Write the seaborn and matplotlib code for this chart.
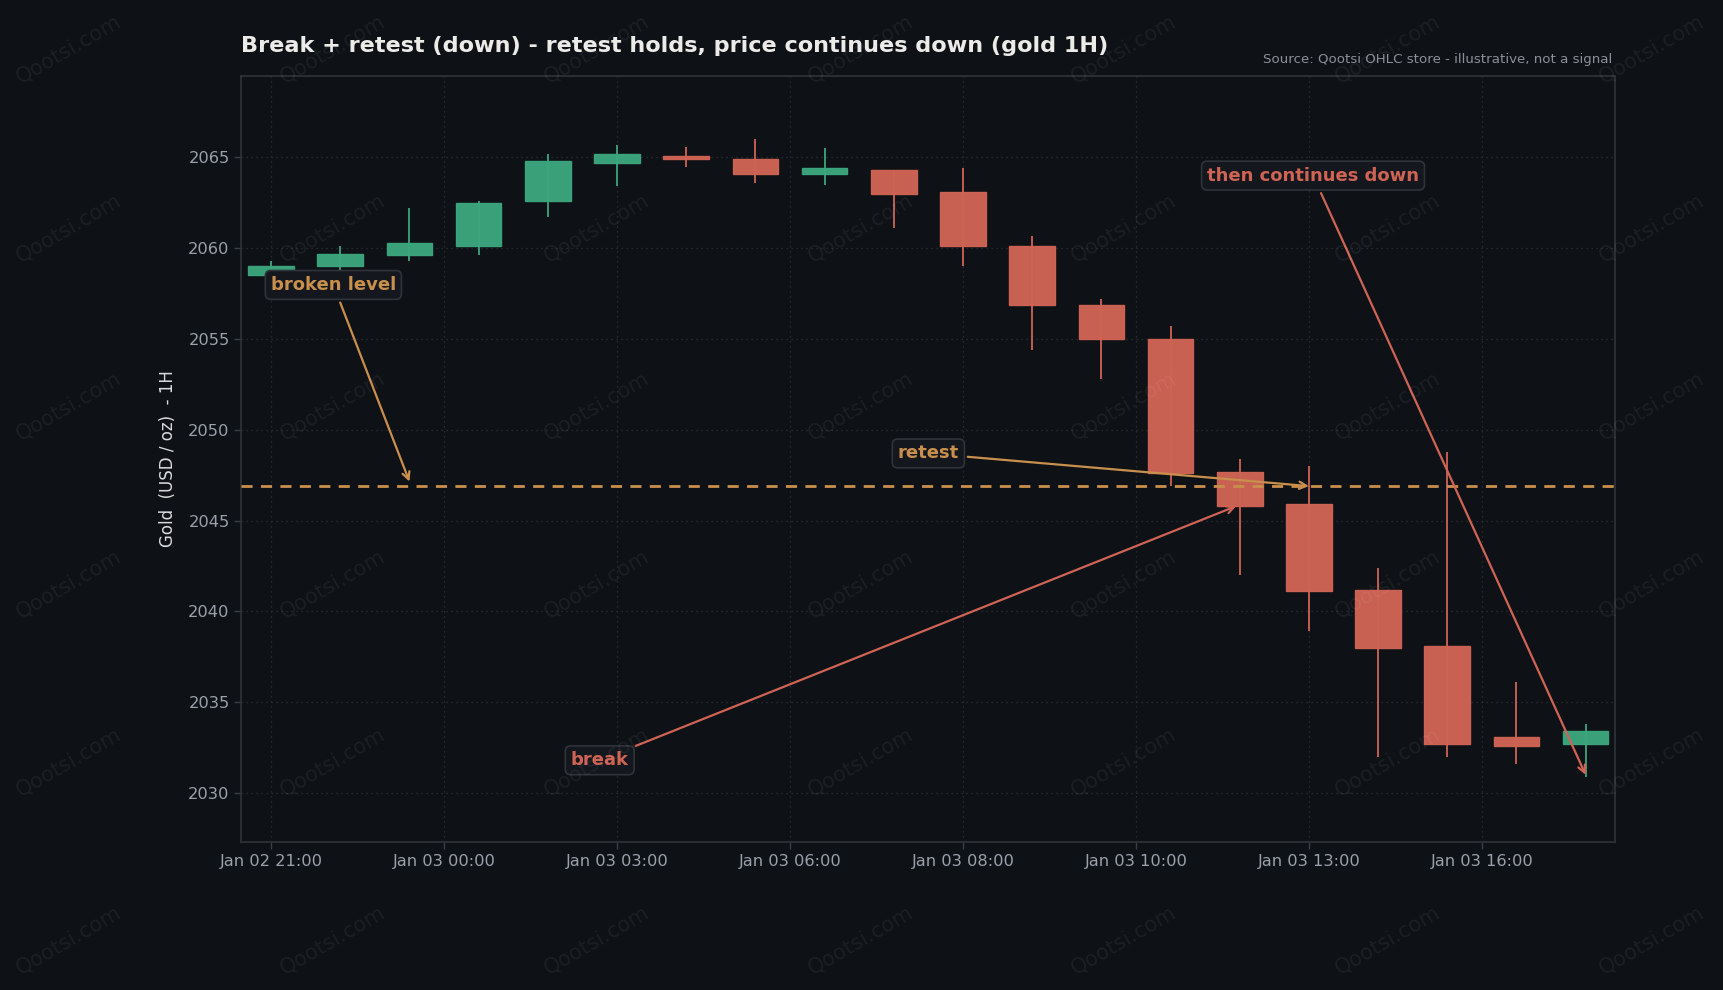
import numpy as np
import seaborn as sns
import matplotlib
matplotlib.use("Agg")
import matplotlib.pyplot as plt

# OHLC values (gold, 1H)
opens  = [2058.5, 2059.0, 2059.6, 2060.1, 2062.6, 2064.7, 2065.1, 2064.9, 2064.1, 2064.3,
          2063.1, 2060.1, 2056.9, 2055.0, 2047.7, 2045.9, 2041.2, 2038.1, 2033.1, 2032.7]
highs  = [2059.3, 2060.1, 2062.2, 2062.6, 2065.2, 2065.7, 2065.6, 2066.0, 2065.5, 2064.3,
          2064.4, 2060.7, 2057.2, 2055.7, 2048.4, 2048.0, 2042.4, 2048.8, 2036.1, 2033.8]
lows   = [2058.4, 2058.8, 2059.3, 2059.6, 2061.7, 2063.4, 2064.5, 2063.6, 2063.5, 2061.1,
          2059.0, 2054.4, 2052.8, 2046.9, 2042.0, 2038.9, 2032.0, 2032.0, 2031.6, 2030.9]
closes = [2059.0, 2059.7, 2060.3, 2062.5, 2064.8, 2065.2, 2064.9, 2064.1, 2064.4, 2063.0,
          2060.1, 2056.9, 2055.0, 2047.6, 2045.8, 2041.1, 2038.0, 2032.7, 2032.6, 2033.4]
tick_labels = ["Jan 02 21:00", "Jan 03 00:00", "Jan 03 03:00", "Jan 03 06:00",
               "Jan 03 08:00", "Jan 03 10:00", "Jan 03 13:00", "Jan 03 16:00"]
level = 2046.9

BG = "#0e1116"
GREEN = "#3ca67d"
RED = "#cf6455"
ORANGE = "#c98f4c"
MUTED = "#9aa1ab"

sns.set_theme(style="dark", rc={
    "figure.facecolor": BG, "axes.facecolor": BG, "axes.edgecolor": "#30343a",
    "grid.color": "#2c3037", "text.color": "#e6e4e0", "axes.labelcolor": "#dcdcdc",
    "xtick.color": MUTED, "ytick.color": MUTED,
})
plt.rcParams["font.family"] = ["DejaVu Sans"]

fig = plt.figure(figsize=(17.24, 9.9), dpi=100)
ax = fig.add_axes([0.140, 0.1495, 0.797, 0.774])

# watermark
for wx in np.arange(0.040, 1.0, 0.153):
    for wy in np.arange(0.95, 0.0, -0.18):
        fig.text(wx, wy, "Qootsi.com", rotation=30, ha="center", va="center",
                 fontsize=15, color="#ffffff", alpha=0.06, zorder=0)

x = np.arange(len(opens))
o, h, l, c = map(np.array, (opens, highs, lows, closes))
up = c >= o
cols = np.where(up, GREEN, RED)
ax.vlines(x, l, h, colors=cols, linewidth=1.3, zorder=2)
ax.bar(x, np.abs(c - o), bottom=np.minimum(o, c), width=0.66, color=cols,
       edgecolor=cols, linewidth=1.0, alpha=0.97, zorder=3)

ax.axhline(level, color=ORANGE, linestyle=(0, (4, 3)), linewidth=2, zorder=4)

box = dict(boxstyle="round,pad=0.3", facecolor="#14171d", edgecolor="#2f333a", linewidth=1.2)
def note(txt, xy, xytext, color):
    ax.annotate(txt, xy=xy, xytext=xytext, ha="center", va="center", color=color,
                fontsize=13, fontweight="bold", bbox=box, zorder=6,
                arrowprops=dict(arrowstyle="->", color=color, lw=1.6, shrinkA=2, shrinkB=0))

note("broken level", (2.0, level + 0.25), (0.9, 2057.98), ORANGE)
note("retest", (15.0, level), (9.5, 2048.7), ORANGE)
note("break", (13.95, 2045.8), (4.75, 2031.8), RED)
note("then continues down", (19.0, 2031.0), (15.06, 2064.0), RED)

ax.set_xlim(-0.43, 19.43)
ax.set_ylim(2027.3, 2069.5)
ax.set_xticks(np.arange(len(tick_labels)) * 2.5)
ax.set_xticklabels(tick_labels)
ax.set_yticks(np.arange(2030, 2066, 5))
ax.tick_params(axis="both", labelsize=11.7, length=5, width=1, color="#3a3e45",
               bottom=True, left=True)
ax.grid(True, linestyle=(0, (1, 3)), linewidth=0.9, color="#2e323a")
for s in ax.spines.values():
    s.set_color("#30343a")
    s.set_linewidth(1.2)

ax.set_ylabel("Gold  (USD / oz)  - 1H", fontsize=12, labelpad=8)
ax.set_title("Break + retest (down) - retest holds, price continues down (gold 1H)",
             loc="left", fontsize=16.1, fontweight="bold", color="#ecebe8", pad=17)
ax.text(0.998, 1.013, "Source: Qootsi OHLC store - illustrative, not a signal",
        transform=ax.transAxes, ha="right", va="bottom", fontsize=9.6, color="#8b9098")

fig.savefig("out.png", dpi=100, facecolor=BG)
